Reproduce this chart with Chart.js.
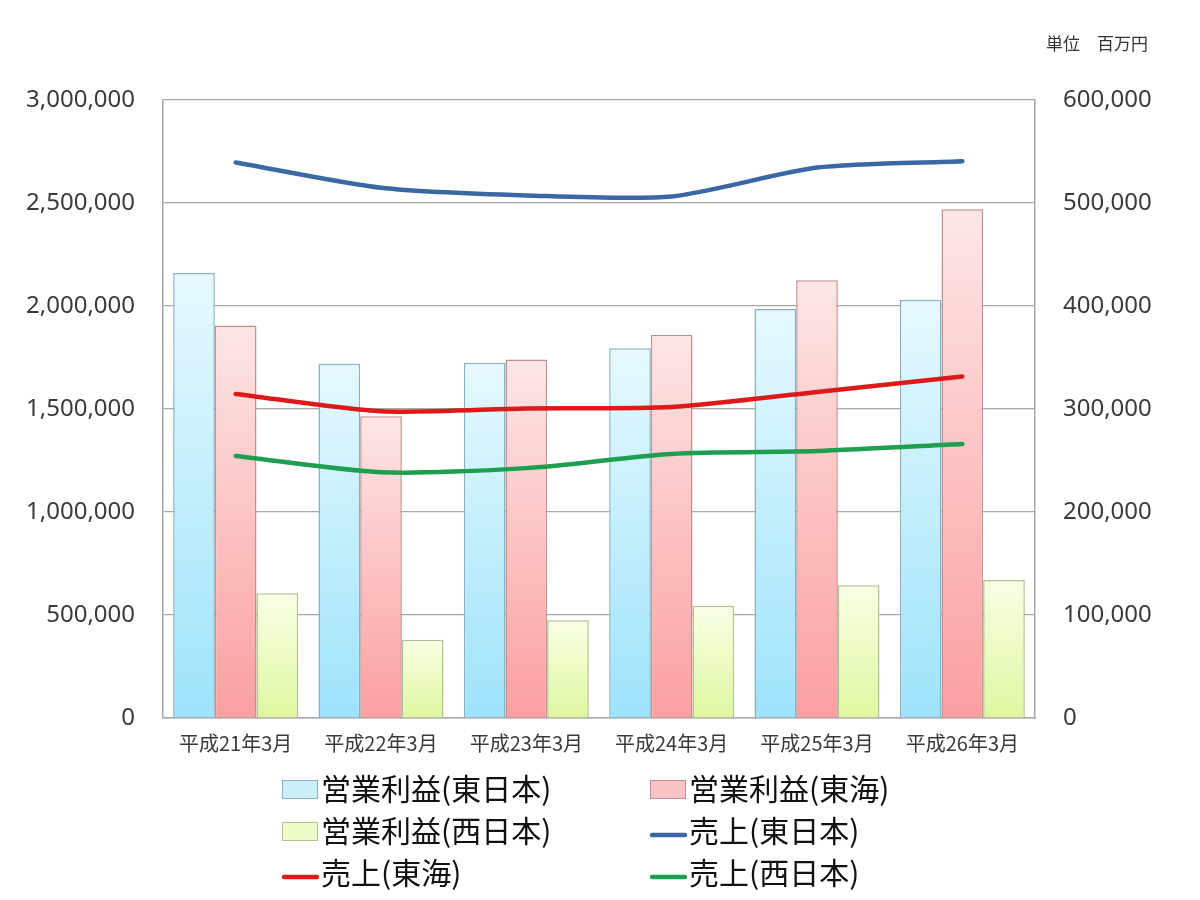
<!DOCTYPE html>
<html lang="ja">
<head>
<meta charset="utf-8">
<title>JR 売上・営業利益</title>
<script src="https://cdn.jsdelivr.net/npm/chart.js@4/dist/chart.umd.min.js"></script>
<style>
  html, body { margin: 0; padding: 0; background: #fff; }
  #wrap { width: 1200px; height: 900px; position: relative; }
</style>
</head>
<body>
<div id="wrap"><canvas id="chart" width="1200" height="900"></canvas></div>
<script>
// Data (単位 百万円)
const labels = ['平成21年3月', '平成22年3月', '平成23年3月', '平成24年3月', '平成25年3月', '平成26年3月'];
const profitEast = [432000, 344000, 345000, 359000, 397000, 406000];
const profitCentral = [381000, 293000, 348000, 372000, 425000, 494000];
const profitWest = [121000, 76000, 95000, 109000, 129000, 134000];
const salesEast = [2697000, 2574000, 2537000, 2532000, 2672000, 2703000];
const salesCentral = [1573000, 1489000, 1503000, 1510000, 1583000, 1658000];
const salesWest = [1272000, 1193000, 1213000, 1282000, 1296000, 1330000];
const unitLabel = '単位　百万円';

const jpFont = '"Noto Sans CJK JP", "Noto Sans", sans-serif';

// Bar gradient: pale at top, saturated at bottom (per bar)
function barFill(top, bottom) {
    return (ctx) => {
        const chart = ctx.chart;
        if (ctx.type !== 'data' || !chart.chartArea) return bottom;
        const scale = chart.scales.y2;
        const y0 = scale.getPixelForValue(ctx.raw);
        const y1 = scale.getPixelForValue(0);
        if (!isFinite(y0) || y1 - y0 < 1) return bottom;
        const g = chart.ctx.createLinearGradient(0, y0, 0, y1);
        g.addColorStop(0, top);
        g.addColorStop(1, bottom);
        return g;
    };
}

function barSet(label, data, top, bottom, border, swatch) {
    return {
        type: 'bar', label, data, yAxisID: 'y2', order: 2,
        backgroundColor: barFill(top, bottom),
        borderColor: border, borderWidth: 1.5,
        categoryPercentage: 0.86, barPercentage: 1.0,
        swatch
    };
}

function lineSet(label, data, color) {
    return {
        type: 'line', label, data, yAxisID: 'y', order: 0,
        borderColor: color, backgroundColor: color, borderWidth: 4.5,
        tension: 0.25, pointRadius: 0, fill: false, borderCapStyle: 'round'
    };
}

const datasets = [
    barSet('営業利益(東日本)', profitEast, '#e6f9fe', '#9de3fb', '#86b2c6', '#cdeffa'),
    barSet('営業利益(東海)', profitCentral, '#fde6e6', '#fb9f9f', '#c48e8e', '#fbc4c4'),
    barSet('営業利益(西日本)', profitWest, '#f9ffe6', '#def7a0', '#aec48a', '#eefbc8'),
    lineSet('売上(東日本)', salesEast, '#3b68a3'),
    lineSet('売上(東海)', salesCentral, '#dd1a1a'),
    lineSet('売上(西日本)', salesWest, '#1e9e4f')
];

// Two-column legend under the plot + unit label
const legendPlugin = {
    id: 'gridLegend',
    afterDraw(chart) {
        const c = chart.ctx;
        const cols = [282, 650];
        const rows = [789, 831, 873];
        c.save();
        c.font = '30px ' + jpFont;
        c.textBaseline = 'middle';
        chart.data.datasets.forEach((ds, i) => {
            const x = cols[i % 2];
            const y = rows[Math.floor(i / 2)];
            if (ds.type === 'bar') {
                c.fillStyle = ds.swatch;
                c.fillRect(x, y - 9, 36, 19);
                c.strokeStyle = ds.borderColor;
                c.lineWidth = 1;
                c.strokeRect(x + 0.5, y - 8.5, 35, 18);
            } else {
                c.strokeStyle = ds.borderColor;
                c.lineWidth = 4.5;
                c.lineCap = 'round';
                c.beginPath();
                c.moveTo(x + 2, y + 4);
                c.lineTo(x + 35, y + 4);
                c.stroke();
            }
            c.fillStyle = '#111';
            c.fillText(ds.label, x + 39, y);
        });
        c.font = '17px ' + jpFont;
        c.fillStyle = '#333';
        c.textAlign = 'left';
        c.fillText(unitLabel, 1046, 44);
        c.restore();
    }
};

const gridColor = '#a8a8a8';
const tickColor = '#3a3a3a';

const chart = new Chart(document.getElementById('chart'), {
    data: { labels, datasets },
    options: {
        responsive: false,
        animation: false,
        layout: { padding: { top: 100, left: 0, right: 0, bottom: 0 } },
        plugins: { legend: { display: false }, tooltip: { enabled: false } },
        scales: {
            x: {
                grid: { display: false, drawTicks: false },
                border: { display: true, color: gridColor, width: 1.5 },
                ticks: { color: tickColor, padding: 13, font: { family: jpFont, size: 20 }, maxRotation: 0 },
                afterFit: (s) => { s.height = 182; }
            },
            y: {
                position: 'left', min: 0, max: 3000000,
                grid: { color: gridColor, lineWidth: 1.2, drawTicks: false },
                border: { display: true, color: gridColor, width: 1.5 },
                ticks: {
                    stepSize: 500000, padding: 28, color: tickColor,
                    font: { family: '"Noto Sans", sans-serif', size: 24 },
                    callback: (v) => v.toLocaleString('en-US')
                },
                afterFit: (s) => { s.width = 163; }
            },
            y2: {
                position: 'right', min: 0, max: 600000,
                grid: { drawOnChartArea: false, drawTicks: false },
                border: { display: true, color: gridColor, width: 1.5 },
                ticks: {
                    stepSize: 100000, padding: 28, color: tickColor,
                    font: { family: '"Noto Sans", sans-serif', size: 24 },
                    callback: (v) => v.toLocaleString('en-US')
                },
                afterFit: (s) => { s.width = 165; }
            }
        }
    },
    plugins: [legendPlugin]
});
</script>
</body>
</html>
